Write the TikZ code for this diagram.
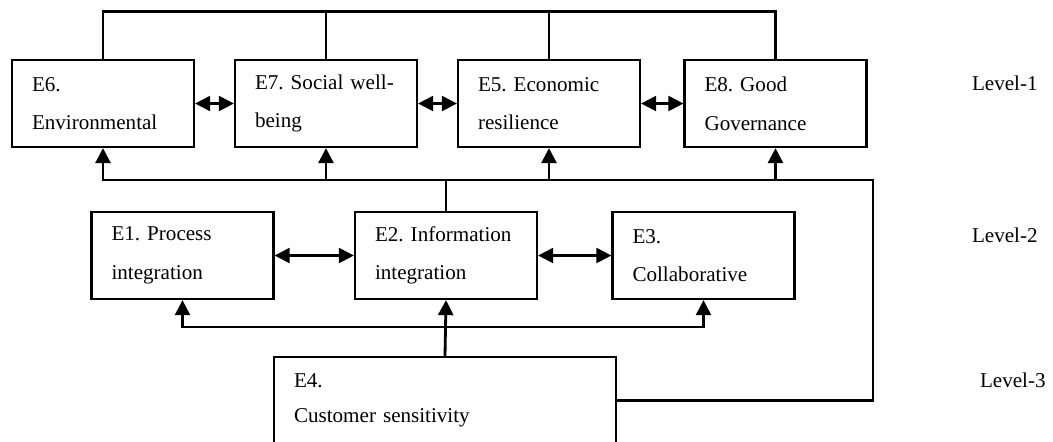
\documentclass[tikz,border=0pt]{standalone}
\usepackage{fontspec}
\setmainfont{Liberation Serif}
\usetikzlibrary{arrows.meta}

\begin{document}
\frenchspacing
\begin{tikzpicture}[x=0.02cm, y=-0.02cm, line width=1.3pt,
    box/.style={draw, minimum width=3.64cm, minimum height=1.74cm, inner xsep=0.4cm,
        text width=2.84cm, align=left, font=\fontsize{12}{22}\selectfont},
    tip/.style={-{Triangle[length=0.3cm, width=0.3cm]}},
    twotip/.style={{Triangle[length=0.3cm, width=0.3cm]}-{Triangle[length=0.3cm, width=0.3cm]}},
    level/.style={anchor=west, font=\fontsize{12}{14}\selectfont}]
    \useasboundingbox (0,0) rectangle (1053,441);

    % Level-1 boxes
    \node[box] (E6) at (103, 103.5) {E6.\\Environmental};
    \node[box] (E7) at (326, 103.5) {E7. Social well-\\being};
    \node[box] (E5) at (549, 103.5) {E5. Economic\\resilience};
    \node[box] (E8) at (775.5, 103.5) {E8. Good\\Governance};

    % Level-2 boxes
    \node[box] (E1) at (182.5, 255.5) {E1. Process\\integration};
    \node[box] (E2) at (446, 255.5) {E2. Information\\integration};
    \node[box] (E3) at (703.5, 255.5) {E3.\\Collaborative};

    % Level-3 box
    \node[box, minimum width=6.84cm, text width=6.04cm, font=\fontsize{12}{20}\selectfont]
        (E4) at (445, 400.5) {E4.\\Customer sensitivity};

    % Level labels
    \node[level] (L1) at (965, 83) {Level-1};
    \node[level] (L2) at (965, 235) {Level-2};
    \node[level] (L3) at (973, 380) {Level-3};

    % Helper coordinates for the lines
    \coordinate (top) at (0, 11.5);
    \coordinate (bus) at (0, 180);
    \coordinate (low) at (0, 327);
    \coordinate (fb) at (873, 180);

    % Line over the top of level-1
    \draw (E6.north) -- (E6.north |- top) -| (E8.north);
    \foreach \n in {E7, E5} {
        \draw (\n.north) -- (\n.north |- top);
    }

    % Arrows between neighbours
    \draw[twotip] (E6) -- (E7);
    \draw[twotip] (E7) -- (E5);
    \draw[twotip] (E5) -- (E8);
    \draw[twotip] (E1) -- (E2);
    \draw[twotip] (E2) -- (E3);

    % From level-2 up to level-1
    \draw (E2.north) -- (E2.north |- bus);
    \foreach \n in {E6, E7, E5, E8} {
        \draw[tip, line width=1.6pt] (E2.north |- bus) -| (\n.south);
    }

    % From level-3 up to level-2
    \draw[tip, line width=1.6pt] (E4.north) -- (E2.south);
    \foreach \n in {E1, E3} {
        \draw[tip] (E4.north |- low) -| (\n.south);
    }

    % From level-3 to level-1
    \draw (E4.east) -| (fb) -- (E2.north |- fb);

\end{tikzpicture}
\end{document}
